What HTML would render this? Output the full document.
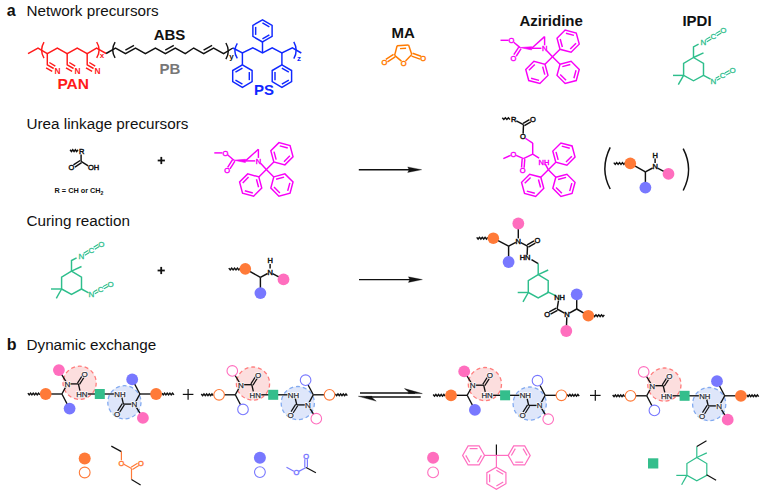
<!DOCTYPE html>
<html><head><meta charset="utf-8"><style>
html,body{margin:0;padding:0;background:#fff;}
svg{display:block;font-family:"Liberation Sans", sans-serif;}
</style></head><body>
<svg width="764" height="490" viewBox="0 0 764 490" stroke-linecap="butt">
<rect width="764" height="490" fill="#fff"/>
<text x="6.80" y="16.00" font-size="16" fill="#111" font-weight="bold" text-anchor="start">a</text>
<text x="26.50" y="16.00" font-size="15.25" fill="#111" font-weight="normal" text-anchor="start">Network precursors</text>
<text x="26.50" y="128.60" font-size="15.25" fill="#111" font-weight="normal" text-anchor="start">Urea linkage precursors</text>
<text x="26.50" y="226.30" font-size="15.25" fill="#111" font-weight="normal" text-anchor="start">Curing reaction</text>
<text x="6.80" y="350.00" font-size="16" fill="#111" font-weight="bold" text-anchor="start">b</text>
<text x="26.50" y="350.00" font-size="15.25" fill="#111" font-weight="normal" text-anchor="start">Dynamic exchange</text>
<polyline points="28.00,53.70 38.00,48.10 47.30,53.70 57.30,48.10 67.20,53.70 77.20,48.10 87.20,53.70 96.60,48.10 106.10,53.50" fill="none" stroke="#FF1A1A" stroke-width="1.45" stroke-linejoin="miter"/>
<polyline points="47.30,53.70 47.30,64.80 53.70,68.50" fill="none" stroke="#FF1A1A" stroke-width="1.45" stroke-linejoin="miter"/>
<line x1="49.40" y1="62.50" x2="55.30" y2="66.10" stroke="#FF1A1A" stroke-width="1.45"/>
<line x1="46.10" y1="67.90" x2="52.20" y2="71.40" stroke="#FF1A1A" stroke-width="1.45"/>
<text x="57.60" y="73.50" font-size="8.4" fill="#FF1A1A" font-weight="bold" text-anchor="middle">N</text>
<polyline points="67.20,53.70 67.20,64.80 73.60,68.50" fill="none" stroke="#FF1A1A" stroke-width="1.45" stroke-linejoin="miter"/>
<line x1="69.30" y1="62.50" x2="75.20" y2="66.10" stroke="#FF1A1A" stroke-width="1.45"/>
<line x1="66.00" y1="67.90" x2="72.10" y2="71.40" stroke="#FF1A1A" stroke-width="1.45"/>
<text x="77.50" y="73.50" font-size="8.4" fill="#FF1A1A" font-weight="bold" text-anchor="middle">N</text>
<polyline points="87.20,53.70 87.20,64.80 93.60,68.50" fill="none" stroke="#FF1A1A" stroke-width="1.45" stroke-linejoin="miter"/>
<line x1="89.30" y1="62.50" x2="95.20" y2="66.10" stroke="#FF1A1A" stroke-width="1.45"/>
<line x1="86.00" y1="67.90" x2="92.10" y2="71.40" stroke="#FF1A1A" stroke-width="1.45"/>
<text x="97.50" y="73.50" font-size="8.4" fill="#FF1A1A" font-weight="bold" text-anchor="middle">N</text>
<path d="M44.00,42.20 Q39.20,50.15 44.00,58.10" fill="none" stroke="#FF1A1A" stroke-width="1.45"/>
<path d="M96.70,42.00 Q101.50,49.95 96.70,57.90" fill="none" stroke="#FF1A1A" stroke-width="1.45"/>
<text x="102.10" y="58.40" font-size="8" fill="#FF1A1A" font-weight="bold" text-anchor="middle">x</text>
<text x="73.20" y="89.20" font-size="15.5" fill="#FF1A1A" font-weight="bold" text-anchor="middle">PAN</text>
<polyline points="106.10,53.50 115.50,48.00 125.50,53.60 135.50,48.00 145.40,53.60 155.40,48.00 165.40,53.60 175.30,48.00 185.30,53.60 193.70,48.00 203.70,53.60 213.60,48.00 223.60,53.60 232.90,48.00" fill="none" stroke="#111" stroke-width="1.45" stroke-linejoin="miter"/>
<line x1="125.39" y1="50.12" x2="133.99" y2="45.30" stroke="#111" stroke-width="1.45"/>
<line x1="165.27" y1="50.14" x2="173.79" y2="45.33" stroke="#111" stroke-width="1.45"/>
<line x1="203.57" y1="50.14" x2="212.09" y2="45.33" stroke="#111" stroke-width="1.45"/>
<path d="M115.10,42.20 Q110.30,50.05 115.10,57.90" fill="none" stroke="#111" stroke-width="1.45"/>
<path d="M225.90,43.00 Q230.70,51.10 225.90,59.20" fill="none" stroke="#111" stroke-width="1.45"/>
<text x="231.40" y="58.60" font-size="8" fill="#111" font-weight="bold" text-anchor="middle">y</text>
<text x="169.50" y="40.00" font-size="15" fill="#111" font-weight="bold" text-anchor="middle">ABS</text>
<text x="169.80" y="73.50" font-size="15" fill="#777777" font-weight="bold" text-anchor="middle">PB</text>
<polyline points="232.90,48.00 242.40,53.00 252.80,47.80 262.50,53.00 272.20,47.80 281.90,53.00 292.40,47.80 301.30,53.00" fill="none" stroke="#1028FF" stroke-width="1.45" stroke-linejoin="miter"/>
<path d="M237.30,43.30 Q232.50,50.85 237.30,58.40" fill="none" stroke="#1028FF" stroke-width="1.45"/>
<path d="M293.80,41.80 Q298.60,50.25 293.80,58.70" fill="none" stroke="#1028FF" stroke-width="1.45"/>
<text x="298.90" y="60.80" font-size="8" fill="#1028FF" font-weight="bold" text-anchor="middle">z</text>
<line x1="242.40" y1="53.00" x2="242.40" y2="64.90" stroke="#1028FF" stroke-width="1.45"/>
<polygon points="242.40,64.90 252.10,70.50 252.10,81.70 242.40,87.30 232.70,81.70 232.70,70.50" fill="none" stroke="#1028FF" stroke-width="1.45"/>
<line x1="249.30" y1="72.07" x2="249.30" y2="80.13" stroke="#1028FF" stroke-width="1.45"/>
<line x1="242.44" y1="84.09" x2="235.46" y2="80.06" stroke="#1028FF" stroke-width="1.45"/>
<line x1="235.46" y1="72.14" x2="242.44" y2="68.11" stroke="#1028FF" stroke-width="1.45"/>
<line x1="262.50" y1="53.00" x2="262.50" y2="42.00" stroke="#1028FF" stroke-width="1.45"/>
<polygon points="262.50,42.00 252.89,36.45 252.89,25.35 262.50,19.80 272.11,25.35 272.11,36.45" fill="none" stroke="#1028FF" stroke-width="1.45"/>
<line x1="255.66" y1="34.90" x2="255.66" y2="26.90" stroke="#1028FF" stroke-width="1.45"/>
<line x1="262.46" y1="22.98" x2="269.38" y2="26.98" stroke="#1028FF" stroke-width="1.45"/>
<line x1="269.38" y1="34.82" x2="262.46" y2="38.82" stroke="#1028FF" stroke-width="1.45"/>
<line x1="281.90" y1="53.00" x2="281.90" y2="64.90" stroke="#1028FF" stroke-width="1.45"/>
<polygon points="281.90,64.90 291.60,70.50 291.60,81.70 281.90,87.30 272.20,81.70 272.20,70.50" fill="none" stroke="#1028FF" stroke-width="1.45"/>
<line x1="281.86" y1="68.11" x2="288.84" y2="72.14" stroke="#1028FF" stroke-width="1.45"/>
<line x1="288.84" y1="80.06" x2="281.86" y2="84.09" stroke="#1028FF" stroke-width="1.45"/>
<line x1="275.00" y1="80.13" x2="275.00" y2="72.07" stroke="#1028FF" stroke-width="1.45"/>
<text x="264.00" y="94.80" font-size="15" fill="#1028FF" font-weight="bold" text-anchor="middle">PS</text>
<text x="403.20" y="38.10" font-size="15" fill="#111" font-weight="bold" text-anchor="middle">MA</text>
<line x1="397.10" y1="45.70" x2="408.60" y2="45.00" stroke="#FF7A00" stroke-width="1.45"/>
<line x1="394.60" y1="55.40" x2="397.10" y2="45.70" stroke="#FF7A00" stroke-width="1.45"/>
<line x1="408.60" y1="45.00" x2="411.80" y2="54.60" stroke="#FF7A00" stroke-width="1.45"/>
<line x1="411.80" y1="54.60" x2="405.57" y2="60.91" stroke="#FF7A00" stroke-width="1.45"/>
<line x1="394.60" y1="55.40" x2="401.45" y2="61.11" stroke="#FF7A00" stroke-width="1.45"/>
<text x="403.60" y="65.60" font-size="7.49" fill="#FF7A00" stroke="#FF7A00" stroke-width="0.45" text-anchor="middle">O</text>
<line x1="400.00" y1="48.60" x2="406.10" y2="48.20" stroke="#FF7A00" stroke-width="1.45"/>
<line x1="393.53" y1="54.31" x2="385.83" y2="59.32" stroke="#FF7A00" stroke-width="1.45"/>
<line x1="395.17" y1="56.82" x2="387.47" y2="61.83" stroke="#FF7A00" stroke-width="1.45"/>
<text x="384.30" y="64.80" font-size="7.49" fill="#FF7A00" stroke="#FF7A00" stroke-width="0.45" text-anchor="middle">O</text>
<line x1="411.59" y1="56.11" x2="420.06" y2="59.09" stroke="#FF7A00" stroke-width="1.45"/>
<line x1="412.58" y1="53.28" x2="421.05" y2="56.26" stroke="#FF7A00" stroke-width="1.45"/>
<text x="423.20" y="61.30" font-size="7.49" fill="#FF7A00" stroke="#FF7A00" stroke-width="0.45" text-anchor="middle">O</text>
<text x="551.20" y="25.50" font-size="15" fill="#111" font-weight="bold" text-anchor="middle">Aziridine</text>
<line x1="500.50" y1="40.30" x2="508.60" y2="40.30" stroke="#F800F8" stroke-width="1.45"/>
<text x="511.50" y="43.00" font-size="7.49" fill="#F800F8" stroke="#F800F8" stroke-width="0.45" text-anchor="middle">O</text>
<line x1="513.71" y1="42.18" x2="520.10" y2="47.60" stroke="#F800F8" stroke-width="1.45"/>
<line x1="518.76" y1="47.09" x2="513.85" y2="54.72" stroke="#F800F8" stroke-width="1.45"/>
<line x1="521.11" y1="48.61" x2="516.20" y2="56.24" stroke="#F800F8" stroke-width="1.45"/>
<text x="513.40" y="60.70" font-size="7.49" fill="#F800F8" stroke="#F800F8" stroke-width="0.45" text-anchor="middle">O</text>
<polygon points="520.10,47.60 531.60,49.90 531.80,46.70" fill="#F800F8" stroke="#F800F8" stroke-width="0.6"/>
<line x1="531.70" y1="48.30" x2="544.60" y2="36.60" stroke="#F800F8" stroke-width="1.45"/>
<line x1="544.60" y1="36.60" x2="544.60" y2="45.30" stroke="#F800F8" stroke-width="1.45"/>
<line x1="531.70" y1="48.30" x2="541.40" y2="48.30" stroke="#F800F8" stroke-width="1.45"/>
<text x="544.60" y="51.00" font-size="7.49" fill="#F800F8" stroke="#F800F8" stroke-width="0.45" text-anchor="middle">N</text>
<line x1="546.78" y1="50.64" x2="552.50" y2="56.80" stroke="#F800F8" stroke-width="1.45"/>
<line x1="552.50" y1="56.80" x2="560.00" y2="49.30" stroke="#F800F8" stroke-width="1.45"/>
<polygon points="560.00,49.30 557.02,38.20 565.15,30.06 576.26,33.04 579.24,44.15 571.10,52.28" fill="none" stroke="#F800F8" stroke-width="1.45"/>
<line x1="562.36" y1="47.01" x2="560.21" y2="39.01" stroke="#F800F8" stroke-width="1.45"/>
<line x1="565.96" y1="33.26" x2="573.96" y2="35.40" stroke="#F800F8" stroke-width="1.45"/>
<line x1="576.06" y1="43.25" x2="570.21" y2="49.11" stroke="#F800F8" stroke-width="1.45"/>
<line x1="552.50" y1="56.80" x2="545.00" y2="64.30" stroke="#F800F8" stroke-width="1.45"/>
<polygon points="545.00,64.30 547.98,75.40 539.85,83.54 528.74,80.56 525.76,69.45 533.90,61.32" fill="none" stroke="#F800F8" stroke-width="1.45"/>
<line x1="542.64" y1="66.59" x2="544.79" y2="74.59" stroke="#F800F8" stroke-width="1.45"/>
<line x1="539.04" y1="80.34" x2="531.04" y2="78.20" stroke="#F800F8" stroke-width="1.45"/>
<line x1="528.94" y1="70.35" x2="534.79" y2="64.49" stroke="#F800F8" stroke-width="1.45"/>
<line x1="552.50" y1="56.80" x2="560.00" y2="64.30" stroke="#F800F8" stroke-width="1.45"/>
<polygon points="560.00,64.30 571.10,61.32 579.24,69.45 576.26,80.56 565.15,83.54 557.02,75.40" fill="none" stroke="#F800F8" stroke-width="1.45"/>
<line x1="562.29" y1="66.66" x2="570.29" y2="64.51" stroke="#F800F8" stroke-width="1.45"/>
<line x1="576.04" y1="70.26" x2="573.90" y2="78.26" stroke="#F800F8" stroke-width="1.45"/>
<line x1="566.05" y1="80.36" x2="560.19" y2="74.51" stroke="#F800F8" stroke-width="1.45"/>
<text x="697.00" y="25.50" font-size="15" fill="#111" font-weight="bold" text-anchor="middle">IPDI</text>
<polygon points="693.50,57.50 703.50,63.50 703.50,75.40 693.50,80.80 683.60,75.40 683.60,63.50" fill="none" stroke="#2EBE8C" stroke-width="1.45"/>
<line x1="693.50" y1="57.50" x2="703.50" y2="52.90" stroke="#2EBE8C" stroke-width="1.45"/>
<line x1="683.60" y1="75.40" x2="673.00" y2="75.40" stroke="#2EBE8C" stroke-width="1.45"/>
<line x1="683.60" y1="75.40" x2="678.30" y2="84.70" stroke="#2EBE8C" stroke-width="1.45"/>
<polyline points="693.50,57.50 693.50,46.90 698.60,44.20" fill="none" stroke="#2EBE8C" stroke-width="1.45" stroke-linejoin="miter"/>
<text x="703.50" y="45.19" font-size="8.03" fill="#2EBE8C" stroke="#2EBE8C" stroke-width="0.3" text-anchor="middle">N</text>
<text x="713.50" y="39.19" font-size="8.03" fill="#2EBE8C" stroke="#2EBE8C" stroke-width="0.3" text-anchor="middle">C</text>
<text x="723.40" y="33.19" font-size="8.03" fill="#2EBE8C" stroke="#2EBE8C" stroke-width="0.3" text-anchor="middle">O</text>
<line x1="706.86" y1="41.68" x2="711.37" y2="38.98" stroke="#2EBE8C" stroke-width="1.1"/>
<line x1="705.63" y1="39.62" x2="710.14" y2="36.92" stroke="#2EBE8C" stroke-width="1.1"/>
<line x1="716.86" y1="35.67" x2="721.29" y2="32.98" stroke="#2EBE8C" stroke-width="1.1"/>
<line x1="715.61" y1="33.62" x2="720.04" y2="30.93" stroke="#2EBE8C" stroke-width="1.1"/>
<line x1="703.50" y1="75.40" x2="710.60" y2="79.23" stroke="#2EBE8C" stroke-width="1.45"/>
<text x="713.50" y="83.69" font-size="8.03" fill="#2EBE8C" stroke="#2EBE8C" stroke-width="0.3" text-anchor="middle">N</text>
<text x="722.60" y="78.49" font-size="8.03" fill="#2EBE8C" stroke="#2EBE8C" stroke-width="0.3" text-anchor="middle">C</text>
<text x="732.70" y="72.99" font-size="8.03" fill="#2EBE8C" stroke="#2EBE8C" stroke-width="0.3" text-anchor="middle">O</text>
<line x1="716.87" y1="80.25" x2="720.42" y2="78.23" stroke="#2EBE8C" stroke-width="1.1"/>
<line x1="715.68" y1="78.17" x2="719.23" y2="76.15" stroke="#2EBE8C" stroke-width="1.1"/>
<line x1="725.98" y1="75.12" x2="730.46" y2="72.68" stroke="#2EBE8C" stroke-width="1.1"/>
<line x1="724.84" y1="73.02" x2="729.32" y2="70.58" stroke="#2EBE8C" stroke-width="1.1"/>
<polyline points="70.10,149.75 71.42,151.45 72.73,149.75 74.05,151.45 75.37,149.75 76.68,151.45 78.00,149.75" fill="none" stroke="#111" stroke-width="1.45" stroke-linejoin="miter"/>
<text x="81.60" y="153.60" font-size="7.49" fill="#111" stroke="#111" stroke-width="0.45" text-anchor="middle">R</text>
<line x1="81.10" y1="154.40" x2="81.10" y2="161.40" stroke="#111" stroke-width="1.45"/>
<line x1="80.13" y1="160.49" x2="73.47" y2="164.95" stroke="#111" stroke-width="1.45"/>
<line x1="81.57" y1="162.65" x2="74.92" y2="167.11" stroke="#111" stroke-width="1.45"/>
<text x="71.50" y="170.40" font-size="7.49" fill="#111" stroke="#111" stroke-width="0.45" text-anchor="middle">O</text>
<line x1="81.10" y1="161.40" x2="88.20" y2="165.90" stroke="#111" stroke-width="1.45"/>
<text x="93.60" y="170.40" font-size="7.49" fill="#111" stroke="#111" stroke-width="0.45" text-anchor="middle">OH</text>
<text x="79.00" y="193.40" font-size="7.3" fill="#111" font-weight="bold" text-anchor="middle">R = CH or CH<tspan font-size="5.2" dy="1.5">2</tspan></text>
<line x1="157.70" y1="160.50" x2="164.90" y2="160.50" stroke="#111" stroke-width="1.8"/>
<line x1="161.30" y1="156.90" x2="161.30" y2="164.10" stroke="#111" stroke-width="1.8"/>
<line x1="214.30" y1="152.90" x2="222.40" y2="152.90" stroke="#F800F8" stroke-width="1.45"/>
<text x="225.30" y="155.60" font-size="7.49" fill="#F800F8" stroke="#F800F8" stroke-width="0.45" text-anchor="middle">O</text>
<line x1="227.51" y1="154.78" x2="233.90" y2="160.20" stroke="#F800F8" stroke-width="1.45"/>
<line x1="232.56" y1="159.69" x2="227.65" y2="167.32" stroke="#F800F8" stroke-width="1.45"/>
<line x1="234.91" y1="161.21" x2="230.00" y2="168.84" stroke="#F800F8" stroke-width="1.45"/>
<text x="227.20" y="173.30" font-size="7.49" fill="#F800F8" stroke="#F800F8" stroke-width="0.45" text-anchor="middle">O</text>
<polygon points="233.90,160.20 245.40,162.50 245.60,159.30" fill="#F800F8" stroke="#F800F8" stroke-width="0.6"/>
<line x1="245.50" y1="160.90" x2="258.40" y2="149.20" stroke="#F800F8" stroke-width="1.45"/>
<line x1="258.40" y1="149.20" x2="258.40" y2="157.90" stroke="#F800F8" stroke-width="1.45"/>
<line x1="245.50" y1="160.90" x2="255.20" y2="160.90" stroke="#F800F8" stroke-width="1.45"/>
<text x="258.40" y="163.60" font-size="7.49" fill="#F800F8" stroke="#F800F8" stroke-width="0.45" text-anchor="middle">N</text>
<line x1="260.58" y1="163.24" x2="266.30" y2="169.40" stroke="#F800F8" stroke-width="1.45"/>
<line x1="266.30" y1="169.40" x2="273.80" y2="161.90" stroke="#F800F8" stroke-width="1.45"/>
<polygon points="273.80,161.90 270.82,150.80 278.95,142.66 290.06,145.64 293.04,156.75 284.90,164.88" fill="none" stroke="#F800F8" stroke-width="1.45"/>
<line x1="276.16" y1="159.61" x2="274.01" y2="151.61" stroke="#F800F8" stroke-width="1.45"/>
<line x1="279.76" y1="145.86" x2="287.76" y2="148.00" stroke="#F800F8" stroke-width="1.45"/>
<line x1="289.86" y1="155.85" x2="284.01" y2="161.71" stroke="#F800F8" stroke-width="1.45"/>
<line x1="266.30" y1="169.40" x2="258.80" y2="176.90" stroke="#F800F8" stroke-width="1.45"/>
<polygon points="258.80,176.90 261.78,188.00 253.65,196.14 242.54,193.16 239.56,182.05 247.70,173.92" fill="none" stroke="#F800F8" stroke-width="1.45"/>
<line x1="256.44" y1="179.19" x2="258.59" y2="187.19" stroke="#F800F8" stroke-width="1.45"/>
<line x1="252.84" y1="192.94" x2="244.84" y2="190.80" stroke="#F800F8" stroke-width="1.45"/>
<line x1="242.74" y1="182.95" x2="248.59" y2="177.09" stroke="#F800F8" stroke-width="1.45"/>
<line x1="266.30" y1="169.40" x2="273.80" y2="176.90" stroke="#F800F8" stroke-width="1.45"/>
<polygon points="273.80,176.90 284.90,173.92 293.04,182.05 290.06,193.16 278.95,196.14 270.82,188.00" fill="none" stroke="#F800F8" stroke-width="1.45"/>
<line x1="276.09" y1="179.26" x2="284.09" y2="177.11" stroke="#F800F8" stroke-width="1.45"/>
<line x1="289.84" y1="182.86" x2="287.70" y2="190.86" stroke="#F800F8" stroke-width="1.45"/>
<line x1="279.85" y1="192.96" x2="273.99" y2="187.11" stroke="#F800F8" stroke-width="1.45"/>
<line x1="358.80" y1="169.70" x2="415.70" y2="169.70" stroke="#111" stroke-width="1.4"/>
<polygon points="421.70,169.70 407.70,166.90 409.10,169.70 407.70,172.50" fill="#111" stroke="#111" stroke-width="0.3"/>
<polyline points="502.30,117.75 503.82,119.45 505.34,117.75 506.86,119.45 508.38,117.75 509.90,119.45" fill="none" stroke="#111" stroke-width="1.45" stroke-linejoin="miter"/>
<text x="513.60" y="121.90" font-size="7.49" fill="#111" stroke="#111" stroke-width="0.45" text-anchor="middle">R</text>
<line x1="516.30" y1="120.78" x2="523.50" y2="124.70" stroke="#111" stroke-width="1.45"/>
<line x1="524.42" y1="125.66" x2="530.79" y2="121.86" stroke="#111" stroke-width="1.45"/>
<line x1="523.09" y1="123.43" x2="529.46" y2="119.62" stroke="#111" stroke-width="1.45"/>
<text x="532.90" y="121.90" font-size="7.49" fill="#111" stroke="#111" stroke-width="0.45" text-anchor="middle">O</text>
<line x1="523.50" y1="124.70" x2="523.13" y2="133.60" stroke="#111" stroke-width="1.45"/>
<text x="522.80" y="139.30" font-size="7.49" fill="#111" stroke="#111" stroke-width="0.45" text-anchor="middle">O</text>
<line x1="525.31" y1="138.25" x2="532.70" y2="143.10" stroke="#F800F8" stroke-width="1.45"/>
<polyline points="532.70,143.10 532.70,154.10 539.10,158.20" fill="none" stroke="#F800F8" stroke-width="1.45" stroke-linejoin="miter"/>
<text x="543.90" y="164.50" font-size="7.49" fill="#F800F8" stroke="#F800F8" stroke-width="0.45" text-anchor="middle">NH</text>
<line x1="532.70" y1="154.10" x2="523.50" y2="158.70" stroke="#F800F8" stroke-width="1.45"/>
<line x1="522.18" y1="158.90" x2="521.53" y2="167.51" stroke="#F800F8" stroke-width="1.45"/>
<line x1="524.77" y1="159.10" x2="524.12" y2="167.71" stroke="#F800F8" stroke-width="1.45"/>
<text x="522.60" y="173.30" font-size="7.49" fill="#F800F8" stroke="#F800F8" stroke-width="0.45" text-anchor="middle">O</text>
<line x1="523.50" y1="158.70" x2="516.13" y2="155.34" stroke="#F800F8" stroke-width="1.45"/>
<text x="513.40" y="156.80" font-size="7.49" fill="#F800F8" stroke="#F800F8" stroke-width="0.45" text-anchor="middle">O</text>
<line x1="510.67" y1="155.34" x2="503.30" y2="158.70" stroke="#F800F8" stroke-width="1.45"/>
<line x1="545.20" y1="163.83" x2="548.30" y2="169.70" stroke="#F800F8" stroke-width="1.45"/>
<line x1="548.30" y1="169.70" x2="555.80" y2="162.20" stroke="#F800F8" stroke-width="1.45"/>
<polygon points="555.80,162.20 552.82,151.10 560.95,142.96 572.06,145.94 575.04,157.05 566.90,165.18" fill="none" stroke="#F800F8" stroke-width="1.45"/>
<line x1="558.16" y1="159.91" x2="556.01" y2="151.91" stroke="#F800F8" stroke-width="1.45"/>
<line x1="561.76" y1="146.16" x2="569.76" y2="148.30" stroke="#F800F8" stroke-width="1.45"/>
<line x1="571.86" y1="156.15" x2="566.01" y2="162.01" stroke="#F800F8" stroke-width="1.45"/>
<line x1="548.30" y1="169.70" x2="540.80" y2="177.20" stroke="#F800F8" stroke-width="1.45"/>
<polygon points="540.80,177.20 543.78,188.30 535.65,196.44 524.54,193.46 521.56,182.35 529.70,174.22" fill="none" stroke="#F800F8" stroke-width="1.45"/>
<line x1="538.44" y1="179.49" x2="540.59" y2="187.49" stroke="#F800F8" stroke-width="1.45"/>
<line x1="534.84" y1="193.24" x2="526.84" y2="191.10" stroke="#F800F8" stroke-width="1.45"/>
<line x1="524.74" y1="183.25" x2="530.59" y2="177.39" stroke="#F800F8" stroke-width="1.45"/>
<line x1="548.30" y1="169.70" x2="555.80" y2="177.20" stroke="#F800F8" stroke-width="1.45"/>
<polygon points="555.80,177.20 566.90,174.22 575.04,182.35 572.06,193.46 560.95,196.44 552.82,188.30" fill="none" stroke="#F800F8" stroke-width="1.45"/>
<line x1="558.09" y1="179.56" x2="566.09" y2="177.41" stroke="#F800F8" stroke-width="1.45"/>
<line x1="571.84" y1="183.16" x2="569.70" y2="191.16" stroke="#F800F8" stroke-width="1.45"/>
<line x1="561.85" y1="193.26" x2="555.99" y2="187.41" stroke="#F800F8" stroke-width="1.45"/>
<path d="M610.2,147.3 Q599.5,168.9 610.2,189" fill="none" stroke="#111" stroke-width="1.5"/>
<path d="M683.2,148.7 Q694,169.6 683.2,190.5" fill="none" stroke="#111" stroke-width="1.5"/>
<polyline points="613.80,162.65 615.24,164.35 616.67,162.65 618.11,164.35 619.55,162.65 620.99,164.35 622.42,162.65 623.86,164.35 625.30,162.65" fill="none" stroke="#111" stroke-width="1.45" stroke-linejoin="miter"/>
<line x1="630.30" y1="163.40" x2="645.40" y2="171.80" stroke="#111" stroke-width="1.45"/>
<line x1="645.40" y1="171.80" x2="645.40" y2="187.60" stroke="#111" stroke-width="1.45"/>
<line x1="645.40" y1="171.80" x2="652.62" y2="168.00" stroke="#111" stroke-width="1.45"/>
<text x="655.10" y="169.40" font-size="7.49" fill="#111" stroke="#111" stroke-width="0.45" text-anchor="middle">N</text>
<text x="655.10" y="157.70" font-size="7.49" fill="#111" stroke="#111" stroke-width="0.45" text-anchor="middle">H</text>
<line x1="655.10" y1="158.40" x2="655.10" y2="163.00" stroke="#111" stroke-width="1.45"/>
<line x1="657.57" y1="168.03" x2="668.50" y2="173.90" stroke="#111" stroke-width="1.45"/>
<circle cx="630.30" cy="163.40" r="5.8" fill="#FF7A38" stroke="none" stroke-width="1.2"/>
<circle cx="645.40" cy="187.60" r="5.9" fill="#7878FF" stroke="none" stroke-width="1.2"/>
<circle cx="668.50" cy="173.90" r="5.9" fill="#FF6EBE" stroke="none" stroke-width="1.2"/>
<polygon points="71.50,271.10 81.50,277.10 81.50,289.00 71.50,294.40 61.60,289.00 61.60,277.10" fill="none" stroke="#2EBE8C" stroke-width="1.45"/>
<line x1="71.50" y1="271.10" x2="81.50" y2="266.50" stroke="#2EBE8C" stroke-width="1.45"/>
<line x1="61.60" y1="289.00" x2="51.00" y2="289.00" stroke="#2EBE8C" stroke-width="1.45"/>
<line x1="61.60" y1="289.00" x2="56.30" y2="298.30" stroke="#2EBE8C" stroke-width="1.45"/>
<polyline points="71.50,271.10 71.50,260.50 76.60,257.80" fill="none" stroke="#2EBE8C" stroke-width="1.45" stroke-linejoin="miter"/>
<text x="81.50" y="258.79" font-size="8.03" fill="#2EBE8C" stroke="#2EBE8C" stroke-width="0.3" text-anchor="middle">N</text>
<text x="91.50" y="252.79" font-size="8.03" fill="#2EBE8C" stroke="#2EBE8C" stroke-width="0.3" text-anchor="middle">C</text>
<text x="101.40" y="246.79" font-size="8.03" fill="#2EBE8C" stroke="#2EBE8C" stroke-width="0.3" text-anchor="middle">O</text>
<line x1="84.86" y1="255.28" x2="89.37" y2="252.58" stroke="#2EBE8C" stroke-width="1.1"/>
<line x1="83.63" y1="253.22" x2="88.14" y2="250.52" stroke="#2EBE8C" stroke-width="1.1"/>
<line x1="94.86" y1="249.27" x2="99.29" y2="246.58" stroke="#2EBE8C" stroke-width="1.1"/>
<line x1="93.61" y1="247.22" x2="98.04" y2="244.53" stroke="#2EBE8C" stroke-width="1.1"/>
<line x1="81.50" y1="289.00" x2="88.60" y2="292.83" stroke="#2EBE8C" stroke-width="1.45"/>
<text x="91.50" y="297.29" font-size="8.03" fill="#2EBE8C" stroke="#2EBE8C" stroke-width="0.3" text-anchor="middle">N</text>
<text x="100.60" y="292.09" font-size="8.03" fill="#2EBE8C" stroke="#2EBE8C" stroke-width="0.3" text-anchor="middle">C</text>
<text x="110.70" y="286.59" font-size="8.03" fill="#2EBE8C" stroke="#2EBE8C" stroke-width="0.3" text-anchor="middle">O</text>
<line x1="94.87" y1="293.85" x2="98.42" y2="291.83" stroke="#2EBE8C" stroke-width="1.1"/>
<line x1="93.68" y1="291.77" x2="97.23" y2="289.75" stroke="#2EBE8C" stroke-width="1.1"/>
<line x1="103.98" y1="288.72" x2="108.46" y2="286.28" stroke="#2EBE8C" stroke-width="1.1"/>
<line x1="102.84" y1="286.62" x2="107.32" y2="284.18" stroke="#2EBE8C" stroke-width="1.1"/>
<line x1="157.60" y1="270.50" x2="164.80" y2="270.50" stroke="#111" stroke-width="1.8"/>
<line x1="161.20" y1="266.90" x2="161.20" y2="274.10" stroke="#111" stroke-width="1.8"/>
<polyline points="228.80,268.15 230.24,269.85 231.67,268.15 233.11,269.85 234.55,268.15 235.99,269.85 237.42,268.15 238.86,269.85 240.30,268.15" fill="none" stroke="#111" stroke-width="1.45" stroke-linejoin="miter"/>
<line x1="245.30" y1="268.90" x2="260.40" y2="277.30" stroke="#111" stroke-width="1.45"/>
<line x1="260.40" y1="277.30" x2="260.40" y2="293.10" stroke="#111" stroke-width="1.45"/>
<line x1="260.40" y1="277.30" x2="267.62" y2="273.50" stroke="#111" stroke-width="1.45"/>
<text x="270.10" y="274.90" font-size="7.49" fill="#111" stroke="#111" stroke-width="0.45" text-anchor="middle">N</text>
<text x="270.10" y="263.20" font-size="7.49" fill="#111" stroke="#111" stroke-width="0.45" text-anchor="middle">H</text>
<line x1="270.10" y1="263.90" x2="270.10" y2="268.50" stroke="#111" stroke-width="1.45"/>
<line x1="272.57" y1="273.53" x2="283.50" y2="279.40" stroke="#111" stroke-width="1.45"/>
<circle cx="245.30" cy="268.90" r="5.8" fill="#FF7A38" stroke="none" stroke-width="1.2"/>
<circle cx="260.40" cy="293.10" r="5.9" fill="#7878FF" stroke="none" stroke-width="1.2"/>
<circle cx="283.50" cy="279.40" r="5.9" fill="#FF6EBE" stroke="none" stroke-width="1.2"/>
<line x1="359.00" y1="279.60" x2="416.40" y2="279.60" stroke="#111" stroke-width="1.4"/>
<polygon points="422.40,279.60 408.40,276.80 409.80,279.60 408.40,282.40" fill="#111" stroke="#111" stroke-width="0.3"/>
<polyline points="476.70,237.35 478.10,239.05 479.50,237.35 480.90,239.05 482.30,237.35 483.70,239.05 485.10,237.35 486.50,239.05 487.90,237.35" fill="none" stroke="#111" stroke-width="1.45" stroke-linejoin="miter"/>
<line x1="493.30" y1="238.20" x2="508.60" y2="246.10" stroke="#111" stroke-width="1.45"/>
<line x1="508.60" y1="246.10" x2="508.60" y2="262.00" stroke="#111" stroke-width="1.45"/>
<line x1="508.60" y1="246.10" x2="515.80" y2="242.46" stroke="#111" stroke-width="1.45"/>
<text x="518.30" y="243.90" font-size="7.49" fill="#111" stroke="#111" stroke-width="0.45" text-anchor="middle">N</text>
<line x1="518.30" y1="238.40" x2="518.30" y2="223.50" stroke="#111" stroke-width="1.45"/>
<line x1="520.77" y1="242.52" x2="527.50" y2="246.10" stroke="#111" stroke-width="1.45"/>
<line x1="528.40" y1="247.09" x2="535.32" y2="243.20" stroke="#111" stroke-width="1.45"/>
<line x1="527.13" y1="244.82" x2="534.05" y2="240.93" stroke="#111" stroke-width="1.45"/>
<text x="537.50" y="243.30" font-size="7.49" fill="#111" stroke="#111" stroke-width="0.45" text-anchor="middle">O</text>
<line x1="527.50" y1="246.10" x2="527.12" y2="254.90" stroke="#111" stroke-width="1.45"/>
<text x="525.10" y="260.40" font-size="7.49" fill="#111" stroke="#111" stroke-width="0.45" text-anchor="middle">HN</text>
<line x1="531.50" y1="259.60" x2="538.20" y2="263.60" stroke="#111" stroke-width="1.45"/>
<circle cx="493.30" cy="238.20" r="5.8" fill="#FF7A38" stroke="none" stroke-width="1.2"/>
<circle cx="508.60" cy="262.00" r="5.9" fill="#7878FF" stroke="none" stroke-width="1.2"/>
<circle cx="518.30" cy="223.50" r="5.9" fill="#FF6EBE" stroke="none" stroke-width="1.2"/>
<polygon points="538.20,274.60 548.20,280.60 548.20,292.50 538.20,297.90 528.30,292.50 528.30,280.60" fill="none" stroke="#2EBE8C" stroke-width="1.45"/>
<line x1="538.20" y1="274.60" x2="548.20" y2="270.00" stroke="#2EBE8C" stroke-width="1.45"/>
<line x1="528.30" y1="292.50" x2="517.70" y2="292.50" stroke="#2EBE8C" stroke-width="1.45"/>
<line x1="528.30" y1="292.50" x2="523.00" y2="301.80" stroke="#2EBE8C" stroke-width="1.45"/>
<line x1="538.20" y1="263.60" x2="538.20" y2="274.60" stroke="#2EBE8C" stroke-width="1.45"/>
<line x1="547.30" y1="291.70" x2="555.54" y2="295.65" stroke="#2EBE8C" stroke-width="1.45"/>
<text x="559.60" y="300.30" font-size="7.49" fill="#111" stroke="#111" stroke-width="0.45" text-anchor="middle">NH</text>
<line x1="558.51" y1="300.56" x2="557.10" y2="309.00" stroke="#111" stroke-width="1.45"/>
<line x1="556.20" y1="308.01" x2="549.28" y2="311.90" stroke="#111" stroke-width="1.45"/>
<line x1="557.47" y1="310.28" x2="550.55" y2="314.17" stroke="#111" stroke-width="1.45"/>
<text x="547.10" y="317.20" font-size="7.49" fill="#111" stroke="#111" stroke-width="0.45" text-anchor="middle">O</text>
<line x1="557.10" y1="309.00" x2="564.46" y2="313.13" stroke="#111" stroke-width="1.45"/>
<text x="566.90" y="317.20" font-size="7.49" fill="#111" stroke="#111" stroke-width="0.45" text-anchor="middle">N</text>
<line x1="566.80" y1="317.30" x2="566.30" y2="331.00" stroke="#111" stroke-width="1.45"/>
<line x1="569.34" y1="313.13" x2="576.70" y2="309.00" stroke="#111" stroke-width="1.45"/>
<line x1="576.70" y1="309.00" x2="576.70" y2="294.30" stroke="#111" stroke-width="1.45"/>
<line x1="576.70" y1="309.00" x2="588.30" y2="315.70" stroke="#111" stroke-width="1.45"/>
<polyline points="593.20,314.85 594.59,316.55 595.98,314.85 597.36,316.55 598.75,314.85 600.14,316.55 601.52,314.85 602.91,316.55 604.30,314.85" fill="none" stroke="#111" stroke-width="1.45" stroke-linejoin="miter"/>
<circle cx="588.30" cy="315.70" r="5.8" fill="#FF7A38" stroke="none" stroke-width="1.2"/>
<circle cx="576.70" cy="294.30" r="5.9" fill="#7878FF" stroke="none" stroke-width="1.2"/>
<circle cx="566.30" cy="331.00" r="5.9" fill="#FF6EBE" stroke="none" stroke-width="1.2"/>
<circle cx="79.60" cy="382.80" r="16.6" fill="#FCDEDE" stroke="#FF7C7C" stroke-width="1.3" stroke-dasharray="4 2.9"/>
<circle cx="124.40" cy="402.30" r="16.6" fill="#DEE6FA" stroke="#82AAF0" stroke-width="1.3" stroke-dasharray="4 2.9"/>
<polyline points="27.90,393.15 29.23,394.85 30.57,393.15 31.90,394.85 33.23,393.15 34.57,394.85 35.90,393.15 37.23,394.85 38.57,393.15 39.90,394.85" fill="none" stroke="#111" stroke-width="1.45" stroke-linejoin="miter"/>
<line x1="45.70" y1="394.00" x2="61.90" y2="394.00" stroke="#111" stroke-width="1.35"/>
<line x1="61.90" y1="394.00" x2="69.60" y2="408.60" stroke="#111" stroke-width="1.35"/>
<line x1="61.90" y1="394.00" x2="66.16" y2="386.18" stroke="#111" stroke-width="1.35"/>
<line x1="66.04" y1="381.69" x2="58.90" y2="370.10" stroke="#111" stroke-width="1.35"/>
<line x1="70.00" y1="383.90" x2="78.40" y2="383.90" stroke="#111" stroke-width="1.35"/>
<line x1="79.52" y1="384.37" x2="84.12" y2="377.11" stroke="#111" stroke-width="1.2"/>
<line x1="77.49" y1="383.09" x2="82.09" y2="375.82" stroke="#111" stroke-width="1.2"/>
<line x1="78.40" y1="383.90" x2="79.95" y2="390.55" stroke="#111" stroke-width="1.35"/>
<line x1="87.40" y1="394.00" x2="99.80" y2="394.00" stroke="#111" stroke-width="1.35"/>
<text x="67.40" y="386.79" font-size="8.03" fill="#fff" stroke="#fff" stroke-opacity="0.8" stroke-width="1.8" stroke-linejoin="round" text-anchor="middle">N</text>
<text x="67.40" y="386.79" font-size="8.03" fill="#2a2a33" stroke="#2a2a33" stroke-width="0.25" text-anchor="middle">N</text>
<text x="84.60" y="376.99" font-size="8.03" fill="#fff" stroke="#fff" stroke-opacity="0.8" stroke-width="1.8" stroke-linejoin="round" text-anchor="middle">O</text>
<text x="84.60" y="376.99" font-size="8.03" fill="#2a2a33" stroke="#2a2a33" stroke-width="0.25" text-anchor="middle">O</text>
<text x="81.80" y="396.81" font-size="7.81" fill="#fff" stroke="#fff" stroke-opacity="0.8" stroke-width="1.8" stroke-linejoin="round" text-anchor="middle">HN</text>
<text x="81.80" y="396.81" font-size="7.81" fill="#2a2a33" stroke="#2a2a33" stroke-width="0.25" text-anchor="middle">HN</text>
<circle cx="45.70" cy="394.00" r="5.9" fill="#FF7A38" stroke="none" stroke-width="1.2"/>
<circle cx="58.90" cy="370.10" r="5.9" fill="#FF6EBE" stroke="none" stroke-width="1.2"/>
<circle cx="69.60" cy="408.60" r="5.9" fill="#7878FF" stroke="none" stroke-width="1.2"/>
<polyline points="161.90,393.15 163.23,394.85 164.57,393.15 165.90,394.85 167.23,393.15 168.57,394.85 169.90,393.15 171.23,394.85 172.57,393.15 173.90,394.85" fill="none" stroke="#111" stroke-width="1.45" stroke-linejoin="miter"/>
<line x1="156.10" y1="394.00" x2="139.90" y2="394.00" stroke="#111" stroke-width="1.35"/>
<line x1="139.90" y1="394.00" x2="132.20" y2="379.40" stroke="#111" stroke-width="1.35"/>
<line x1="139.90" y1="394.00" x2="135.64" y2="401.82" stroke="#111" stroke-width="1.35"/>
<line x1="135.76" y1="406.31" x2="142.90" y2="417.90" stroke="#111" stroke-width="1.35"/>
<line x1="131.80" y1="404.10" x2="123.40" y2="404.10" stroke="#111" stroke-width="1.35"/>
<line x1="122.28" y1="403.63" x2="117.68" y2="410.89" stroke="#111" stroke-width="1.2"/>
<line x1="124.31" y1="404.91" x2="119.71" y2="412.18" stroke="#111" stroke-width="1.2"/>
<line x1="123.40" y1="404.10" x2="121.85" y2="397.45" stroke="#111" stroke-width="1.35"/>
<line x1="114.40" y1="394.00" x2="99.80" y2="394.00" stroke="#111" stroke-width="1.35"/>
<text x="134.40" y="406.99" font-size="8.03" fill="#fff" stroke="#fff" stroke-opacity="0.8" stroke-width="1.8" stroke-linejoin="round" text-anchor="middle">N</text>
<text x="134.40" y="406.99" font-size="8.03" fill="#2a2a33" stroke="#2a2a33" stroke-width="0.25" text-anchor="middle">N</text>
<text x="117.20" y="416.79" font-size="8.03" fill="#fff" stroke="#fff" stroke-opacity="0.8" stroke-width="1.8" stroke-linejoin="round" text-anchor="middle">O</text>
<text x="117.20" y="416.79" font-size="8.03" fill="#2a2a33" stroke="#2a2a33" stroke-width="0.25" text-anchor="middle">O</text>
<text x="120.00" y="396.81" font-size="7.81" fill="#fff" stroke="#fff" stroke-opacity="0.8" stroke-width="1.8" stroke-linejoin="round" text-anchor="middle">NH</text>
<text x="120.00" y="396.81" font-size="7.81" fill="#2a2a33" stroke="#2a2a33" stroke-width="0.25" text-anchor="middle">NH</text>
<circle cx="156.10" cy="394.00" r="5.9" fill="#FF7A38" stroke="none" stroke-width="1.2"/>
<circle cx="142.90" cy="417.90" r="5.9" fill="#FF6EBE" stroke="none" stroke-width="1.2"/>
<circle cx="132.20" cy="379.40" r="5.9" fill="#7878FF" stroke="none" stroke-width="1.2"/>
<rect x="94.80" y="389.00" width="10" height="10" fill="#34BE8C"/>
<circle cx="253.00" cy="383.60" r="16.6" fill="#FCDEDE" stroke="#FF7C7C" stroke-width="1.3" stroke-dasharray="4 2.9"/>
<circle cx="297.80" cy="403.10" r="16.6" fill="#DEE6FA" stroke="#82AAF0" stroke-width="1.3" stroke-dasharray="4 2.9"/>
<polyline points="201.30,393.95 202.63,395.65 203.97,393.95 205.30,395.65 206.63,393.95 207.97,395.65 209.30,393.95 210.63,395.65 211.97,393.95 213.30,395.65" fill="none" stroke="#111" stroke-width="1.45" stroke-linejoin="miter"/>
<line x1="219.10" y1="394.80" x2="235.30" y2="394.80" stroke="#111" stroke-width="1.35"/>
<line x1="235.30" y1="394.80" x2="243.00" y2="409.40" stroke="#111" stroke-width="1.35"/>
<line x1="235.30" y1="394.80" x2="239.56" y2="386.98" stroke="#111" stroke-width="1.35"/>
<line x1="239.44" y1="382.49" x2="232.30" y2="370.90" stroke="#111" stroke-width="1.35"/>
<line x1="243.40" y1="384.70" x2="251.80" y2="384.70" stroke="#111" stroke-width="1.35"/>
<line x1="252.92" y1="385.17" x2="257.52" y2="377.91" stroke="#111" stroke-width="1.2"/>
<line x1="250.89" y1="383.89" x2="255.49" y2="376.62" stroke="#111" stroke-width="1.2"/>
<line x1="251.80" y1="384.70" x2="253.35" y2="391.35" stroke="#111" stroke-width="1.35"/>
<line x1="260.80" y1="394.80" x2="273.20" y2="394.80" stroke="#111" stroke-width="1.35"/>
<text x="240.80" y="387.59" font-size="8.03" fill="#fff" stroke="#fff" stroke-opacity="0.8" stroke-width="1.8" stroke-linejoin="round" text-anchor="middle">N</text>
<text x="240.80" y="387.59" font-size="8.03" fill="#2a2a33" stroke="#2a2a33" stroke-width="0.25" text-anchor="middle">N</text>
<text x="258.00" y="377.79" font-size="8.03" fill="#fff" stroke="#fff" stroke-opacity="0.8" stroke-width="1.8" stroke-linejoin="round" text-anchor="middle">O</text>
<text x="258.00" y="377.79" font-size="8.03" fill="#2a2a33" stroke="#2a2a33" stroke-width="0.25" text-anchor="middle">O</text>
<text x="255.20" y="397.61" font-size="7.81" fill="#fff" stroke="#fff" stroke-opacity="0.8" stroke-width="1.8" stroke-linejoin="round" text-anchor="middle">HN</text>
<text x="255.20" y="397.61" font-size="7.81" fill="#2a2a33" stroke="#2a2a33" stroke-width="0.25" text-anchor="middle">HN</text>
<circle cx="219.10" cy="394.80" r="5.3" fill="#fff" stroke="#FF7A38" stroke-width="1.1"/>
<circle cx="232.30" cy="370.90" r="5.3" fill="#fff" stroke="#FF6EBE" stroke-width="1.1"/>
<circle cx="243.00" cy="409.40" r="5.3" fill="#fff" stroke="#7878FF" stroke-width="1.1"/>
<polyline points="335.30,393.95 336.63,395.65 337.97,393.95 339.30,395.65 340.63,393.95 341.97,395.65 343.30,393.95 344.63,395.65 345.97,393.95 347.30,395.65" fill="none" stroke="#111" stroke-width="1.45" stroke-linejoin="miter"/>
<line x1="329.50" y1="394.80" x2="313.30" y2="394.80" stroke="#111" stroke-width="1.35"/>
<line x1="313.30" y1="394.80" x2="305.60" y2="380.20" stroke="#111" stroke-width="1.35"/>
<line x1="313.30" y1="394.80" x2="309.04" y2="402.62" stroke="#111" stroke-width="1.35"/>
<line x1="309.16" y1="407.11" x2="316.30" y2="418.70" stroke="#111" stroke-width="1.35"/>
<line x1="305.20" y1="404.90" x2="296.80" y2="404.90" stroke="#111" stroke-width="1.35"/>
<line x1="295.68" y1="404.43" x2="291.08" y2="411.69" stroke="#111" stroke-width="1.2"/>
<line x1="297.71" y1="405.71" x2="293.11" y2="412.98" stroke="#111" stroke-width="1.2"/>
<line x1="296.80" y1="404.90" x2="295.25" y2="398.25" stroke="#111" stroke-width="1.35"/>
<line x1="287.80" y1="394.80" x2="273.20" y2="394.80" stroke="#111" stroke-width="1.35"/>
<text x="307.80" y="407.79" font-size="8.03" fill="#fff" stroke="#fff" stroke-opacity="0.8" stroke-width="1.8" stroke-linejoin="round" text-anchor="middle">N</text>
<text x="307.80" y="407.79" font-size="8.03" fill="#2a2a33" stroke="#2a2a33" stroke-width="0.25" text-anchor="middle">N</text>
<text x="290.60" y="417.59" font-size="8.03" fill="#fff" stroke="#fff" stroke-opacity="0.8" stroke-width="1.8" stroke-linejoin="round" text-anchor="middle">O</text>
<text x="290.60" y="417.59" font-size="8.03" fill="#2a2a33" stroke="#2a2a33" stroke-width="0.25" text-anchor="middle">O</text>
<text x="293.40" y="397.61" font-size="7.81" fill="#fff" stroke="#fff" stroke-opacity="0.8" stroke-width="1.8" stroke-linejoin="round" text-anchor="middle">NH</text>
<text x="293.40" y="397.61" font-size="7.81" fill="#2a2a33" stroke="#2a2a33" stroke-width="0.25" text-anchor="middle">NH</text>
<circle cx="329.50" cy="394.80" r="5.3" fill="#fff" stroke="#FF7A38" stroke-width="1.1"/>
<circle cx="316.30" cy="418.70" r="5.3" fill="#fff" stroke="#FF6EBE" stroke-width="1.1"/>
<circle cx="305.60" cy="380.20" r="5.3" fill="#fff" stroke="#7878FF" stroke-width="1.1"/>
<rect x="268.20" y="389.80" width="10" height="10" fill="#34BE8C"/>
<circle cx="484.90" cy="384.10" r="16.6" fill="#FCDEDE" stroke="#FF7C7C" stroke-width="1.3" stroke-dasharray="4 2.9"/>
<circle cx="529.70" cy="403.60" r="16.6" fill="#DEE6FA" stroke="#82AAF0" stroke-width="1.3" stroke-dasharray="4 2.9"/>
<polyline points="433.20,394.45 434.53,396.15 435.87,394.45 437.20,396.15 438.53,394.45 439.87,396.15 441.20,394.45 442.53,396.15 443.87,394.45 445.20,396.15" fill="none" stroke="#111" stroke-width="1.45" stroke-linejoin="miter"/>
<line x1="451.00" y1="395.30" x2="467.20" y2="395.30" stroke="#111" stroke-width="1.35"/>
<line x1="467.20" y1="395.30" x2="474.90" y2="409.90" stroke="#111" stroke-width="1.35"/>
<line x1="467.20" y1="395.30" x2="471.46" y2="387.48" stroke="#111" stroke-width="1.35"/>
<line x1="471.34" y1="382.99" x2="464.20" y2="371.40" stroke="#111" stroke-width="1.35"/>
<line x1="475.30" y1="385.20" x2="483.70" y2="385.20" stroke="#111" stroke-width="1.35"/>
<line x1="484.82" y1="385.67" x2="489.42" y2="378.41" stroke="#111" stroke-width="1.2"/>
<line x1="482.79" y1="384.39" x2="487.39" y2="377.12" stroke="#111" stroke-width="1.2"/>
<line x1="483.70" y1="385.20" x2="485.25" y2="391.85" stroke="#111" stroke-width="1.35"/>
<line x1="492.70" y1="395.30" x2="505.10" y2="395.30" stroke="#111" stroke-width="1.35"/>
<text x="472.70" y="388.09" font-size="8.03" fill="#fff" stroke="#fff" stroke-opacity="0.8" stroke-width="1.8" stroke-linejoin="round" text-anchor="middle">N</text>
<text x="472.70" y="388.09" font-size="8.03" fill="#2a2a33" stroke="#2a2a33" stroke-width="0.25" text-anchor="middle">N</text>
<text x="489.90" y="378.29" font-size="8.03" fill="#fff" stroke="#fff" stroke-opacity="0.8" stroke-width="1.8" stroke-linejoin="round" text-anchor="middle">O</text>
<text x="489.90" y="378.29" font-size="8.03" fill="#2a2a33" stroke="#2a2a33" stroke-width="0.25" text-anchor="middle">O</text>
<text x="487.10" y="398.11" font-size="7.81" fill="#fff" stroke="#fff" stroke-opacity="0.8" stroke-width="1.8" stroke-linejoin="round" text-anchor="middle">HN</text>
<text x="487.10" y="398.11" font-size="7.81" fill="#2a2a33" stroke="#2a2a33" stroke-width="0.25" text-anchor="middle">HN</text>
<circle cx="451.00" cy="395.30" r="5.9" fill="#FF7A38" stroke="none" stroke-width="1.2"/>
<circle cx="464.20" cy="371.40" r="5.9" fill="#FF6EBE" stroke="none" stroke-width="1.2"/>
<circle cx="474.90" cy="409.90" r="5.9" fill="#7878FF" stroke="none" stroke-width="1.2"/>
<polyline points="567.20,394.45 568.53,396.15 569.87,394.45 571.20,396.15 572.53,394.45 573.87,396.15 575.20,394.45 576.53,396.15 577.87,394.45 579.20,396.15" fill="none" stroke="#111" stroke-width="1.45" stroke-linejoin="miter"/>
<line x1="561.40" y1="395.30" x2="545.20" y2="395.30" stroke="#111" stroke-width="1.35"/>
<line x1="545.20" y1="395.30" x2="537.50" y2="380.70" stroke="#111" stroke-width="1.35"/>
<line x1="545.20" y1="395.30" x2="540.94" y2="403.12" stroke="#111" stroke-width="1.35"/>
<line x1="541.06" y1="407.61" x2="548.20" y2="419.20" stroke="#111" stroke-width="1.35"/>
<line x1="537.10" y1="405.40" x2="528.70" y2="405.40" stroke="#111" stroke-width="1.35"/>
<line x1="527.58" y1="404.93" x2="522.98" y2="412.19" stroke="#111" stroke-width="1.2"/>
<line x1="529.61" y1="406.21" x2="525.01" y2="413.48" stroke="#111" stroke-width="1.2"/>
<line x1="528.70" y1="405.40" x2="527.15" y2="398.75" stroke="#111" stroke-width="1.35"/>
<line x1="519.70" y1="395.30" x2="505.10" y2="395.30" stroke="#111" stroke-width="1.35"/>
<text x="539.70" y="408.29" font-size="8.03" fill="#fff" stroke="#fff" stroke-opacity="0.8" stroke-width="1.8" stroke-linejoin="round" text-anchor="middle">N</text>
<text x="539.70" y="408.29" font-size="8.03" fill="#2a2a33" stroke="#2a2a33" stroke-width="0.25" text-anchor="middle">N</text>
<text x="522.50" y="418.09" font-size="8.03" fill="#fff" stroke="#fff" stroke-opacity="0.8" stroke-width="1.8" stroke-linejoin="round" text-anchor="middle">O</text>
<text x="522.50" y="418.09" font-size="8.03" fill="#2a2a33" stroke="#2a2a33" stroke-width="0.25" text-anchor="middle">O</text>
<text x="525.30" y="398.11" font-size="7.81" fill="#fff" stroke="#fff" stroke-opacity="0.8" stroke-width="1.8" stroke-linejoin="round" text-anchor="middle">NH</text>
<text x="525.30" y="398.11" font-size="7.81" fill="#2a2a33" stroke="#2a2a33" stroke-width="0.25" text-anchor="middle">NH</text>
<circle cx="561.40" cy="395.30" r="5.3" fill="#fff" stroke="#FF7A38" stroke-width="1.1"/>
<circle cx="548.20" cy="419.20" r="5.3" fill="#fff" stroke="#FF6EBE" stroke-width="1.1"/>
<circle cx="537.50" cy="380.70" r="5.3" fill="#fff" stroke="#7878FF" stroke-width="1.1"/>
<rect x="500.10" y="390.30" width="10" height="10" fill="#34BE8C"/>
<circle cx="664.40" cy="384.60" r="16.6" fill="#FCDEDE" stroke="#FF7C7C" stroke-width="1.3" stroke-dasharray="4 2.9"/>
<circle cx="709.20" cy="404.10" r="16.6" fill="#DEE6FA" stroke="#82AAF0" stroke-width="1.3" stroke-dasharray="4 2.9"/>
<polyline points="612.70,394.95 614.03,396.65 615.37,394.95 616.70,396.65 618.03,394.95 619.37,396.65 620.70,394.95 622.03,396.65 623.37,394.95 624.70,396.65" fill="none" stroke="#111" stroke-width="1.45" stroke-linejoin="miter"/>
<line x1="630.50" y1="395.80" x2="646.70" y2="395.80" stroke="#111" stroke-width="1.35"/>
<line x1="646.70" y1="395.80" x2="654.40" y2="410.40" stroke="#111" stroke-width="1.35"/>
<line x1="646.70" y1="395.80" x2="650.96" y2="387.98" stroke="#111" stroke-width="1.35"/>
<line x1="650.84" y1="383.49" x2="643.70" y2="371.90" stroke="#111" stroke-width="1.35"/>
<line x1="654.80" y1="385.70" x2="663.20" y2="385.70" stroke="#111" stroke-width="1.35"/>
<line x1="664.32" y1="386.17" x2="668.92" y2="378.91" stroke="#111" stroke-width="1.2"/>
<line x1="662.29" y1="384.89" x2="666.89" y2="377.62" stroke="#111" stroke-width="1.2"/>
<line x1="663.20" y1="385.70" x2="664.75" y2="392.35" stroke="#111" stroke-width="1.35"/>
<line x1="672.20" y1="395.80" x2="684.60" y2="395.80" stroke="#111" stroke-width="1.35"/>
<text x="652.20" y="388.59" font-size="8.03" fill="#fff" stroke="#fff" stroke-opacity="0.8" stroke-width="1.8" stroke-linejoin="round" text-anchor="middle">N</text>
<text x="652.20" y="388.59" font-size="8.03" fill="#2a2a33" stroke="#2a2a33" stroke-width="0.25" text-anchor="middle">N</text>
<text x="669.40" y="378.79" font-size="8.03" fill="#fff" stroke="#fff" stroke-opacity="0.8" stroke-width="1.8" stroke-linejoin="round" text-anchor="middle">O</text>
<text x="669.40" y="378.79" font-size="8.03" fill="#2a2a33" stroke="#2a2a33" stroke-width="0.25" text-anchor="middle">O</text>
<text x="666.60" y="398.61" font-size="7.81" fill="#fff" stroke="#fff" stroke-opacity="0.8" stroke-width="1.8" stroke-linejoin="round" text-anchor="middle">HN</text>
<text x="666.60" y="398.61" font-size="7.81" fill="#2a2a33" stroke="#2a2a33" stroke-width="0.25" text-anchor="middle">HN</text>
<circle cx="630.50" cy="395.80" r="5.3" fill="#fff" stroke="#FF7A38" stroke-width="1.1"/>
<circle cx="643.70" cy="371.90" r="5.3" fill="#fff" stroke="#FF6EBE" stroke-width="1.1"/>
<circle cx="654.40" cy="410.40" r="5.3" fill="#fff" stroke="#7878FF" stroke-width="1.1"/>
<polyline points="746.70,394.95 748.03,396.65 749.37,394.95 750.70,396.65 752.03,394.95 753.37,396.65 754.70,394.95 756.03,396.65 757.37,394.95 758.70,396.65" fill="none" stroke="#111" stroke-width="1.45" stroke-linejoin="miter"/>
<line x1="740.90" y1="395.80" x2="724.70" y2="395.80" stroke="#111" stroke-width="1.35"/>
<line x1="724.70" y1="395.80" x2="717.00" y2="381.20" stroke="#111" stroke-width="1.35"/>
<line x1="724.70" y1="395.80" x2="720.44" y2="403.62" stroke="#111" stroke-width="1.35"/>
<line x1="720.56" y1="408.11" x2="727.70" y2="419.70" stroke="#111" stroke-width="1.35"/>
<line x1="716.60" y1="405.90" x2="708.20" y2="405.90" stroke="#111" stroke-width="1.35"/>
<line x1="707.08" y1="405.43" x2="702.48" y2="412.69" stroke="#111" stroke-width="1.2"/>
<line x1="709.11" y1="406.71" x2="704.51" y2="413.98" stroke="#111" stroke-width="1.2"/>
<line x1="708.20" y1="405.90" x2="706.65" y2="399.25" stroke="#111" stroke-width="1.35"/>
<line x1="699.20" y1="395.80" x2="684.60" y2="395.80" stroke="#111" stroke-width="1.35"/>
<text x="719.20" y="408.79" font-size="8.03" fill="#fff" stroke="#fff" stroke-opacity="0.8" stroke-width="1.8" stroke-linejoin="round" text-anchor="middle">N</text>
<text x="719.20" y="408.79" font-size="8.03" fill="#2a2a33" stroke="#2a2a33" stroke-width="0.25" text-anchor="middle">N</text>
<text x="702.00" y="418.59" font-size="8.03" fill="#fff" stroke="#fff" stroke-opacity="0.8" stroke-width="1.8" stroke-linejoin="round" text-anchor="middle">O</text>
<text x="702.00" y="418.59" font-size="8.03" fill="#2a2a33" stroke="#2a2a33" stroke-width="0.25" text-anchor="middle">O</text>
<text x="704.80" y="398.61" font-size="7.81" fill="#fff" stroke="#fff" stroke-opacity="0.8" stroke-width="1.8" stroke-linejoin="round" text-anchor="middle">NH</text>
<text x="704.80" y="398.61" font-size="7.81" fill="#2a2a33" stroke="#2a2a33" stroke-width="0.25" text-anchor="middle">NH</text>
<circle cx="740.90" cy="395.80" r="5.9" fill="#FF7A38" stroke="none" stroke-width="1.2"/>
<circle cx="727.70" cy="419.70" r="5.9" fill="#FF6EBE" stroke="none" stroke-width="1.2"/>
<circle cx="717.00" cy="381.20" r="5.9" fill="#7878FF" stroke="none" stroke-width="1.2"/>
<rect x="679.60" y="390.80" width="10" height="10" fill="#34BE8C"/>
<line x1="182.80" y1="394.40" x2="193.40" y2="394.40" stroke="#111" stroke-width="1.2"/>
<line x1="188.10" y1="389.10" x2="188.10" y2="399.70" stroke="#111" stroke-width="1.2"/>
<line x1="590.00" y1="395.40" x2="600.60" y2="395.40" stroke="#111" stroke-width="1.2"/>
<line x1="595.30" y1="390.10" x2="595.30" y2="400.70" stroke="#111" stroke-width="1.2"/>
<line x1="360.00" y1="393.00" x2="415.00" y2="393.00" stroke="#111" stroke-width="1.5"/>
<polygon points="422.30,393.60 404.50,388.60 408.80,392.20 408.00,393.60" fill="#111" stroke="#111" stroke-width="0.4"/>
<line x1="366.00" y1="396.90" x2="420.70" y2="396.90" stroke="#111" stroke-width="1.5"/>
<polygon points="358.40,396.30 376.20,401.10 371.80,397.50 372.00,396.30" fill="#111" stroke="#111" stroke-width="0.4"/>
<circle cx="84.70" cy="458.40" r="6" fill="#FF7A38" stroke="none" stroke-width="1.2"/>
<circle cx="84.70" cy="472.50" r="5.4" fill="#fff" stroke="#FF7A38" stroke-width="1.1"/>
<line x1="111.30" y1="446.10" x2="121.40" y2="451.60" stroke="#111" stroke-width="1.2"/>
<line x1="121.40" y1="451.60" x2="121.40" y2="460.20" stroke="#FF7A38" stroke-width="1.2"/>
<text x="121.40" y="465.70" font-size="7.49" fill="#FF7A38" stroke="#FF7A38" stroke-width="0.45" text-anchor="middle">O</text>
<line x1="123.86" y1="464.34" x2="131.50" y2="468.50" stroke="#FF7A38" stroke-width="1.2"/>
<line x1="132.43" y1="469.46" x2="138.88" y2="465.56" stroke="#FF7A38" stroke-width="1.2"/>
<line x1="131.08" y1="467.23" x2="137.53" y2="463.34" stroke="#FF7A38" stroke-width="1.2"/>
<text x="140.80" y="465.70" font-size="7.49" fill="#FF7A38" stroke="#FF7A38" stroke-width="0.45" text-anchor="middle">O</text>
<line x1="131.50" y1="468.50" x2="131.50" y2="479.50" stroke="#FF7A38" stroke-width="1.2"/>
<line x1="131.50" y1="479.50" x2="140.60" y2="485.00" stroke="#111" stroke-width="1.2"/>
<circle cx="259.90" cy="457.70" r="6" fill="#7878FF" stroke="none" stroke-width="1.2"/>
<circle cx="259.90" cy="472.10" r="5.4" fill="#fff" stroke="#7878FF" stroke-width="1.1"/>
<line x1="286.50" y1="467.20" x2="293.86" y2="471.33" stroke="#7878FF" stroke-width="1.2"/>
<text x="296.30" y="475.40" font-size="7.49" fill="#7878FF" stroke="#7878FF" stroke-width="0.45" text-anchor="middle">O</text>
<line x1="298.77" y1="471.39" x2="306.10" y2="467.50" stroke="#7878FF" stroke-width="1.2"/>
<line x1="307.40" y1="467.20" x2="307.40" y2="459.20" stroke="#7878FF" stroke-width="1.2"/>
<line x1="304.80" y1="467.20" x2="304.80" y2="459.20" stroke="#7878FF" stroke-width="1.2"/>
<text x="306.10" y="458.90" font-size="7.49" fill="#7878FF" stroke="#7878FF" stroke-width="0.45" text-anchor="middle">O</text>
<line x1="306.10" y1="467.50" x2="315.90" y2="472.70" stroke="#111" stroke-width="1.2"/>
<circle cx="433.10" cy="457.80" r="6" fill="#FF6EBE" stroke="none" stroke-width="1.2"/>
<circle cx="433.10" cy="472.40" r="5.4" fill="#fff" stroke="#FF6EBE" stroke-width="1.1"/>
<line x1="496.40" y1="455.40" x2="496.40" y2="444.40" stroke="#111" stroke-width="1.2"/>
<line x1="484.60" y1="455.40" x2="508.20" y2="455.40" stroke="#FF6EC0" stroke-width="1.2"/>
<line x1="496.40" y1="455.40" x2="496.40" y2="467.20" stroke="#FF6EC0" stroke-width="1.2"/>
<polygon points="484.60,455.40 479.10,464.93 468.10,464.93 462.60,455.40 468.10,445.87 479.10,445.87" fill="none" stroke="#FF6EC0" stroke-width="1.2"/>
<line x1="481.45" y1="455.36" x2="477.49" y2="462.22" stroke="#FF6EC0" stroke-width="1.2"/>
<line x1="469.71" y1="462.22" x2="465.75" y2="455.36" stroke="#FF6EC0" stroke-width="1.2"/>
<line x1="469.64" y1="448.62" x2="477.56" y2="448.62" stroke="#FF6EC0" stroke-width="1.2"/>
<polygon points="508.20,455.40 513.70,445.87 524.70,445.87 530.20,455.40 524.70,464.93 513.70,464.93" fill="none" stroke="#FF6EC0" stroke-width="1.2"/>
<line x1="511.35" y1="455.44" x2="515.31" y2="448.58" stroke="#FF6EC0" stroke-width="1.2"/>
<line x1="523.09" y1="448.58" x2="527.05" y2="455.44" stroke="#FF6EC0" stroke-width="1.2"/>
<line x1="523.16" y1="462.18" x2="515.24" y2="462.18" stroke="#FF6EC0" stroke-width="1.2"/>
<polygon points="496.40,467.20 505.93,472.70 505.93,483.70 496.40,489.20 486.87,483.70 486.87,472.70" fill="none" stroke="#FF6EC0" stroke-width="1.2"/>
<line x1="496.36" y1="470.35" x2="503.22" y2="474.31" stroke="#FF6EC0" stroke-width="1.2"/>
<line x1="503.22" y1="482.09" x2="496.36" y2="486.05" stroke="#FF6EC0" stroke-width="1.2"/>
<line x1="489.62" y1="482.16" x2="489.62" y2="474.24" stroke="#FF6EC0" stroke-width="1.2"/>
<rect x="648" y="458.3" width="10.3" height="10.2" fill="#34BE8C"/>
<polygon points="696.80,457.50 706.80,463.50 706.80,475.40 696.80,480.80 686.90,475.40 686.90,463.50" fill="none" stroke="#2EBE8C" stroke-width="1.2"/>
<line x1="696.80" y1="457.50" x2="706.80" y2="452.90" stroke="#2EBE8C" stroke-width="1.2"/>
<line x1="686.90" y1="475.40" x2="676.30" y2="475.40" stroke="#2EBE8C" stroke-width="1.2"/>
<line x1="686.90" y1="475.40" x2="681.60" y2="484.70" stroke="#2EBE8C" stroke-width="1.2"/>
<line x1="696.80" y1="457.50" x2="696.80" y2="446.50" stroke="#2EBE8C" stroke-width="1.2"/>
<line x1="696.80" y1="446.50" x2="706.50" y2="440.70" stroke="#111" stroke-width="1.2"/>
<line x1="706.60" y1="474.80" x2="716.10" y2="480.30" stroke="#111" stroke-width="1.2"/>
</svg></body></html>
